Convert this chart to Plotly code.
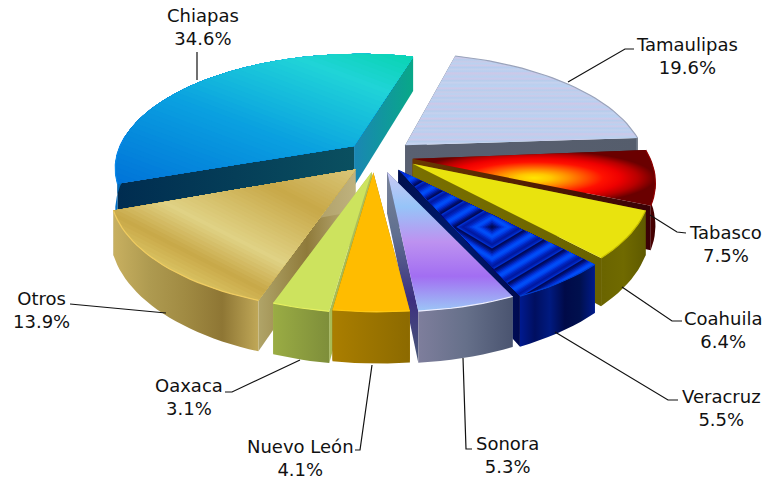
import math
import plotly.graph_objects as go

# ---- data ----
states = ["Tamaulipas", "Tabasco", "Coahuila", "Veracruz", "Sonora",
          "Nuevo León", "Oaxaca", "Otros", "Chiapas"]
shares = [19.6, 7.5, 6.4, 5.5, 5.3, 4.1, 3.1, 13.9, 34.6]

# ---- geometry / style ----
W, H = 778, 480
START = 15.5
CX, CY, R, K, P_, DEPTH = 380, 155, 240, 0.469, 0.185, 41
EXPLODE = dict(zip(states, [33, 36, 32, 32, 28, 26, 34, 36, 32]))
ROTATE = {"Otros": -2.0, "Oaxaca": -1.5, "Nuevo León": -1.0}
NUDGE = {"Otros": (6, -2), "Oaxaca": (3, -4), "Nuevo León": (-1, 0), "Sonora": (3, -1), "Veracruz": (-3, -1),
         "Coahuila": (-5, -2), "Tabasco": (-7, 0), "Chiapas": (-1, 1)}
APEX = {"Otros": (-5, 4), "Oaxaca": (-3, 5), "Nuevo León": (-5, 5), "Sonora": (-3, 5), "Veracruz": (3, 3),
        "Coahuila": (11, 2), "Tabasco": (4, 1), "Chiapas": (-2, 0)}
DRAW_ORDER = ["Chiapas", "Tamaulipas", "Tabasco", "Otros", "Coahuila",
              "Veracruz", "Oaxaca", "Sonora", "Nuevo León"]


def scale(*colors):
    n = len(colors) - 1
    return [[i / n, c] for i, c in enumerate(colors)]


marble = ["#bccfee", "#c6d2ee", "#b6cdec", "#cbc9ea", "#b9d0f0", "#c2cdeb", "#cdc8e8", "#b8cff0",
          "#c4d0ec", "#b5cdee", "#cbcbe9", "#bbd1f0", "#c8cce9", "#b7ceed", "#cfc9e8", "#b9d2f2"]

STYLE = {
    "Tamaulipas": dict(top=("vertical", scale(*(marble * 3))), rim=("horizontal", scale("#7b8494", "#5a6270")),
                       a=("horizontal", scale("#4e5666", "#5c6474")), b=("horizontal", scale("#596071", "#555d6c")),
                       glow="#9aa3ba"),
    "Tabasco": dict(top=("radial", scale("#ffe600", "#ffc800", "#ff9000", "#ff5000", "#ff1000", "#ee0000", "#b80000", "#6a0000")),
                    rim=("horizontal", scale("#5c0000", "#3c0000")),
                    a=("horizontal", scale("#702000", "#3a0000")), b=("horizontal", scale("#6a3a00", "#3a0006")),
                    glow="#900000"),
    "Coahuila": dict(top=("vertical", scale("#e9e30e", "#e9e30e")), rim=("horizontal", scale("#6a6400", "#706a00", "#5f5a00")),
                     a=("horizontal", scale("#7a7000", "#5c5600")), b=("horizontal", scale("#7a7000", "#6a6200")),
                     glow="#c8c000"),
    "Veracruz": dict(top=("vertical", scale("#0030e0", "#0030e0")),
                     rim=("horizontal", scale("#001a90", "#000f60", "#001a80", "#000a48", "#00104e", "#001a8a")),
                     a=("horizontal", scale("#00104e", "#002aa0")), b=("horizontal", scale("#00104e", "#001a70", "#000a50")),
                     glow="#0040d0"),
    "Sonora": dict(top=("vertical", scale("#9cc6f6", "#a26ef2", "#bd92f0", "#96c4f8", "#cbc9f4")),
                   rim=("horizontal", scale("#7e7e9c", "#66708a", "#4a5470")),
                   a=("vertical", scale("#7a8aa0", "#56628a")), b=("vertical", scale("#4a5a78", "#3c2f80", "#5f6f90", "#7a8498")),
                   glow="#eeeeff"),
    "Nuevo León": dict(top=("vertical", scale("#ffbc00", "#ffbc00")), rim=("horizontal", scale("#aa7e00", "#8c6a00")),
                       a=("horizontal", scale("#8c6a00", "#aa7e00")), b=("horizontal", scale("#8c6a00", "#aa7e00")),
                       glow="#ffc810"),
    "Oaxaca": dict(top=("vertical", scale("#cde35e", "#cde35e")), rim=("horizontal", scale("#9aac44", "#7e8e3a")),
                   a=("horizontal", scale("#a8bb54", "#a8bb54")), b=("horizontal", scale("#a8bb54", "#adbf58")),
                   glow="#e6f060"),
    "Otros": dict(top=("vertical", scale("#dccb80", "#dccb80")),
                  rim=("horizontal", scale("#c8b060", "#ae9a50", "#a08a42", "#8e7634", "#c0a858")),
                  a=("horizontal", scale("#b0a468", "#8f7a3a", "#bfb27e")), b=("horizontal", scale("#b0a468", "#8f7a3a", "#bfb27e")),
                  glow="#f0cc60"),
    "Chiapas": dict(top=("vertical", scale("#0a90e0", "#0a90e0")),
                    rim=("horizontal", scale("#0070c8", "#0060a8")),
                    a=("horizontal", scale("#002c50", "#0a5060")), b=("horizontal", scale("#1a86b4", "#08a888")),
                    glow="#0a88e8"),
}

# slanted sheen on the top faces: direction and (position, colour) stops along it
SHEEN = {
    "Chiapas": ((0.35, -0.94), [(-140, "#0070d8"), (-35, "#0aa0e0"), (46, "#20d4d8"), (90, "#08d4b0")]),
    "Otros": ((0.45, -0.89), [(-165, "#d8c060"), (-142, "#c8a848"), (-109, "#e0d285"), (-46, "#c8a848"), (15, "#dccb80")]),
}

LABEL_POS = {"Tamaulipas": (687, 56), "Tabasco": (725, 244), "Coahuila": (723, 330), "Veracruz": (721, 408),
             "Sonora": (507, 455), "Nuevo León": (300, 458), "Oaxaca": (189, 397), "Otros": (41, 310),
             "Chiapas": (203, 27)}
LEADERS = {
    "Tamaulipas": [(568, 82), (625, 49), (634, 49)],
    "Tabasco": [(650, 215), (677, 232), (686, 233)],
    "Coahuila": [(622, 287), (672, 321), (682, 321)],
    "Veracruz": [(555, 332), (668, 400), (678, 400)],
    "Sonora": [(463, 358), (466, 449), (472, 449)],
    "Nuevo León": [(372, 365), (360, 450), (355, 450)],
    "Oaxaca": [(300, 360), (232, 392), (225, 392)],
    "Otros": [(166, 313), (80, 305), (70, 304)],
    "Chiapas": [(197, 80), (197, 52)],
}


def project(x, y, z=0, nudge=(0, 0)):
    f = 1 / (1 + P_ * y / R)
    return CX + x * f + nudge[0], CY - K * y * f + z * f + nudge[1]


def world(theta, radius, off):
    t = math.radians(theta)
    return off[0] + radius * math.sin(t), off[1] + radius * math.cos(t)


def clip_convex(poly, clip):
    area = sum(clip[i][0] * clip[(i + 1) % len(clip)][1] - clip[(i + 1) % len(clip)][0] * clip[i][1]
               for i in range(len(clip)))
    sign = 1 if area > 0 else -1
    out = poly
    for i in range(len(clip)):
        a, b = clip[i], clip[(i + 1) % len(clip)]
        side = lambda p: sign * ((b[0] - a[0]) * (p[1] - a[1]) - (b[1] - a[1]) * (p[0] - a[0]))
        new = []
        for j in range(len(out)):
            p, q = out[j], out[(j + 1) % len(out)]
            sp, sq = side(p), side(q)
            if sp >= 0:
                new.append(p)
            if sp * sq < 0:
                u = sp / (sp - sq)
                new.append((p[0] + u * (q[0] - p[0]), p[1] + u * (q[1] - p[1])))
        out = new
        if not out:
            break
    return out


def mix(stops, t):
    if t <= stops[0][0]:
        return stops[0][1]
    for (t0, c0), (t1, c1) in zip(stops, stops[1:]):
        if t <= t1:
            u = (t - t0) / (t1 - t0)
            rgb = [round(int(c0[i:i + 2], 16) * (1 - u) + int(c1[i:i + 2], 16) * u) for i in (1, 3, 5)]
            return "rgb({},{},{})".format(*rgb)
    return stops[-1][1]


fig = go.Figure()


def add_poly(pts, grad):
    xs = [p[0] for p in pts] + [pts[0][0]]
    ys = [p[1] for p in pts] + [pts[0][1]]
    fig.add_trace(go.Scatter(x=xs, y=ys, mode="lines", fill="toself", line=dict(width=0),
                             fillgradient=dict(type=grad[0], colorscale=grad[1]),
                             hoverinfo="skip", showlegend=False))


def add_flat(pts, color):
    xs = [p[0] for p in pts] + [pts[0][0]]
    ys = [p[1] for p in pts] + [pts[0][1]]
    fig.add_trace(go.Scatter(x=xs, y=ys, mode="lines", fill="toself", line=dict(width=0),
                             fillcolor=color, hoverinfo="skip", showlegend=False))


def add_sheen(poly, direction, stops, bands=48):
    ux, uy = direction
    vx, vy = -uy, ux
    t0, t1 = stops[0][0], stops[-1][0]
    big = 3000
    for i in range(bands):
        t = t0 + (t1 - t0) * i / bands
        bx, by = ux * t, uy * t
        plane = [(bx + vx * big, by + vy * big), (bx - vx * big, by - vy * big),
                 (bx - vx * big + ux * big, by - vy * big + uy * big),
                 (bx + vx * big + ux * big, by + vy * big + uy * big)]
        c = clip_convex(poly, plane)
        if len(c) > 2:
            add_flat(c, mix(stops, t))


spans = {}
acc = START
for name, share in zip(states, shares):
    rot = ROTATE.get(name, 0)
    spans[name] = (acc + rot, acc + rot + share * 3.6)
    acc += share * 3.6

for name in DRAW_ORDER:
    a0, a1 = spans[name]
    mid = math.radians((a0 + a1) / 2)
    off = (EXPLODE[name] * math.sin(mid), EXPLODE[name] * math.cos(mid))
    nd = NUDGE.get(name, (0, 0))
    ap = APEX.get(name, (0, 0))
    apnd = (nd[0] + ap[0], nd[1] + ap[1])
    steps = max(6, int((a1 - a0) / 2))
    thetas = [a0 + (a1 - a0) * i / steps for i in range(steps + 1)]
    st = STYLE[name]
    top_rim = [project(*world(t, R, off), 0, nd) for t in thetas]
    apex, apex_low = project(*off, 0, apnd), project(*off, DEPTH, apnd)

    t_a, l_a = top_rim[0], project(*world(a0, R, off), DEPTH, nd)
    t_b, l_b = top_rim[-1], project(*world(a1, R, off), DEPTH, nd)
    add_poly([apex, t_a, l_a, apex_low], st["a"])
    add_poly([apex, t_b, l_b, apex_low], st["b"])

    v0, v1 = max(a0, 85), min(a1, 275)
    up = []
    if v1 > v0:
        vis = [v0 + (v1 - v0) * i / steps for i in range(steps + 1)]
        up = [project(*world(t, R, off), 0, nd) for t in vis]
        lo = [project(*world(t, R, off), DEPTH, nd) for t in vis]
        add_poly(up + lo[::-1], st["rim"])

    top = [apex] + top_rim
    add_poly(top, st["top"])
    if name in SHEEN:
        add_sheen(top, *SHEEN[name])

    if name == "Veracruz":
        cx_d, cy_d = 492, 227
        shades = ["#000a58", "#001070", "#001a98", "#0028c0", "#0038e0", "#0048f4", "#0050f8",
                  "#0048f0", "#0038e0", "#0028c4", "#0020b0", "#0018a0", "#0020b0", "#0030d0"]
        for i in range(64, -1, -1):
            dx = 2.6 * i
            dy = dx * 0.6
            d = [(cx_d - dx - 2, cy_d), (cx_d, cy_d - dy - 1.2), (cx_d + dx + 2, cy_d), (cx_d, cy_d + dy + 1.2)]
            c = clip_convex(d, top)
            if len(c) > 2:
                add_flat(c, shades[i % len(shades)])

    edge = top_rim if name == "Tamaulipas" else up
    if edge:
        fig.add_trace(go.Scatter(x=[p[0] for p in edge], y=[p[1] for p in edge], mode="lines",
                                 line=dict(color=st["glow"], width=1.2), hoverinfo="skip", showlegend=False))

for name, share in zip(states, shares):
    pts = LEADERS[name]
    fig.add_trace(go.Scatter(x=[p[0] for p in pts], y=[p[1] for p in pts], mode="lines",
                             line=dict(color="#111111", width=1.2), hoverinfo="skip", showlegend=False))
    lx, ly = LABEL_POS[name]
    fig.add_annotation(x=lx, y=ly, text=f"{name}<br>{share}%", showarrow=False,
                       font=dict(family="DejaVu Sans", size=18, color="#111111"), align="center",
                       xanchor="center", yanchor="middle")

fig.update_layout(width=W, height=H, margin=dict(l=0, r=0, t=0, b=0),
                  paper_bgcolor="white", plot_bgcolor="white", showlegend=False,
                  xaxis=dict(range=[0, W], visible=False),
                  yaxis=dict(range=[H, 0], visible=False))
fig.write_html("out.html", config={"displayModeBar": False},
               post_script="document.body.style.margin='0';document.documentElement.style.overflow='hidden';")
